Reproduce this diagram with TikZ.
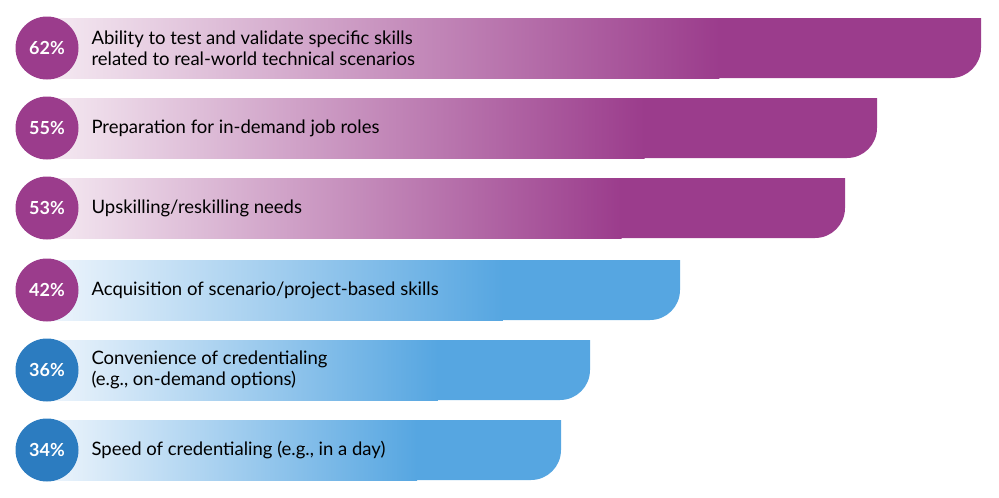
\documentclass[tikz,border=0pt]{standalone}
\usepackage{fontspec}
\setmainfont{Lato}
\definecolor{plum}{HTML}{9B3C8C}
\definecolor{plumlight}{HTML}{F5EAF2}
\definecolor{sky}{HTML}{56A6E1}
\definecolor{skylight}{HTML}{EEF5FC}
\definecolor{navy}{HTML}{2C7CC0}
\tikzset{
  pct/.style={circle, minimum size=63pt, inner sep=0pt, text=white, font=\bfseries\fontsize{18}{18}\selectfont},
  label/.style={anchor=west, align=left, font=\fontsize{18.5}{21}\selectfont}
}
\begin{document}
\begin{tikzpicture}[x=1pt,y=-1pt]
\useasboundingbox (0,0) rectangle (999,498);

% bars: top, right end, bar colour, light colour, circle colour, value, text
\foreach \y/\r/\c/\l/\d/\v/\t/\n in {
  18/981/plum/plumlight/plum/62\%/{Ability to test and validate specific skills\\related to real-world technical scenarios}/a,
  98/877/plum/plumlight/plum/55\%/{Preparation for in-demand job roles}/b,
  178/845/plum/plumlight/plum/53\%/{Upskilling/reskilling needs}/c,
  260/680/sky/skylight/plum/42\%/{Acquisition of scenario/project-based skills}/d,
  340/590/sky/skylight/navy/36\%/{Convenience of credentialing\\(e.g., on-demand options)}/e,
  420/561/sky/skylight/navy/34\%/{Speed of credentialing (e.g., in a day)}/f}{
  \pgfmathsetmacro\s{47+0.72*(\r-47)}
  \fill[\c] (47,\y) -- (\r,\y) [rounded corners=30pt] -- (\r,\y+60) -- (47,\y+60) [sharp corners] -- cycle;
  \shade[left color=\l, right color=\c] (47,\y) rectangle (\s,\y+60);
  \node[pct, fill=\d] (p\n) at (47,\y+30) {\v};
  \node[label] (t\n) at (88,\y+30) {\t};
}
\end{tikzpicture}
\end{document}
